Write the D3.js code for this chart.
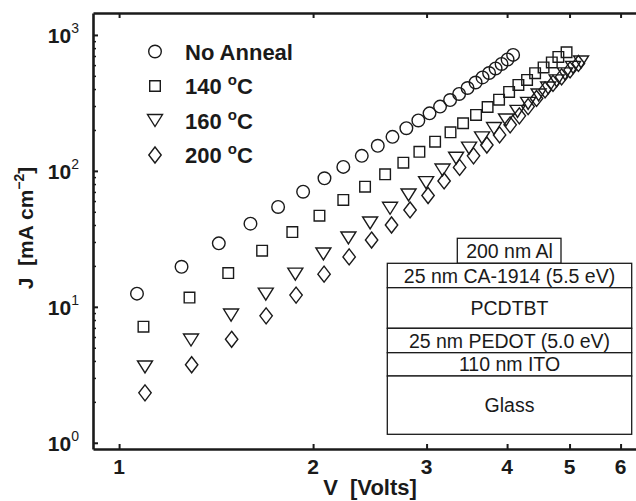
<!DOCTYPE html>
<html>
<head>
<meta charset="utf-8">
<script src="https://cdn.jsdelivr.net/npm/d3@7"></script>
<style>
  html, body { margin: 0; padding: 0; background: #fff; }
  svg { display: block; font-family: "Liberation Sans", Arial, Helvetica, sans-serif; }
</style>
</head>
<body>
<div id="container"></div>
<script>
// series data: voltage [V] and current density [mA cm^-2]
const seriesNames = ['No Anneal', '140', '160', '200'];

const vNoAnneal = [1.066, 1.250, 1.428, 1.599, 1.765, 1.930, 2.083, 2.228, 2.380, 2.520, 2.656, 2.791, 2.913,
  3.032, 3.148, 3.263, 3.370, 3.473, 3.574, 3.664, 3.751, 3.839, 3.922, 4.007, 4.087];
const jNoAnneal = [12.5, 19.7, 29.3, 40.9, 54.3, 70.3, 88.2, 107, 129, 153, 178, 206, 235,
  265, 297, 332, 368, 407, 447, 487, 525, 567, 612, 660, 713];

const v140 = [1.091, 1.286, 1.477, 1.667, 1.857, 2.046, 2.228, 2.408, 2.587, 2.761, 2.924, 3.093, 3.268,
  3.418, 3.580, 3.731, 3.887, 4.029, 4.165, 4.296, 4.421, 4.557, 4.693, 4.804, 4.947];
const j140 = [7.14, 11.7, 17.7, 25.9, 35.5, 46.8, 61.1, 76.5, 94.4, 115, 138, 164, 192,
  224, 258, 295, 334, 381, 429, 467, 523, 577, 628, 689, 746];

const v160 = [1.097, 1.293, 1.492, 1.689, 1.877, 2.075, 2.269, 2.452, 2.633, 2.813, 2.995, 3.176, 3.334,
  3.492, 3.658, 3.818, 3.985, 4.152, 4.312, 4.477, 4.632, 4.775, 4.920, 5.063, 5.210];
const j160 = [3.61, 5.70, 8.70, 12.4, 17.4, 24.5, 32.1, 41.4, 53.1, 66.5, 81.9, 101.5, 124,
  147, 175, 205, 237, 274, 314, 362, 407, 459, 517, 577, 633];

const v200 = [1.097, 1.296, 1.495, 1.691, 1.882, 2.080, 2.275, 2.465, 2.647, 2.828, 3.016, 3.194, 3.376,
  3.548, 3.721, 3.894, 4.044, 4.179, 4.312, 4.444, 4.581, 4.713, 4.860, 5.009, 5.161];
const j200 = [2.33, 3.75, 5.77, 8.58, 12.2, 17.4, 23.3, 31.0, 40.0, 51.6, 65.9, 84.3, 106,
  129, 155, 184, 218, 254, 297, 341, 394, 440, 491, 553, 617];

const xTicks = [1, 2, 3, 4, 5, 6];
const yTicks = [1, 10, 100, 1000];
const yMinorTicks = [2, 3, 4, 5, 6, 7, 8, 9, 20, 30, 40, 50, 60, 70, 80, 90,
  200, 300, 400, 500, 600, 700, 800, 900];

const deviceLayers = ['200 nm Al', '25 nm CA-1914 (5.5 eV)', 'PCDTBT', '25 nm PEDOT (5.0 eV)', '110 nm ITO', 'Glass'];

const width = 636;
const height = 501;
const plot = { left: 93, top: 13, right: 636, bottom: 449 };
const ink = '#1a1a1a';

const svg = d3
  .select('#container')
  .append('svg')
  .attr('width', width)
  .attr('height', height);

const xScale = d3.scaleLog().domain([0.911, 6.34]).range([plot.left, plot.right]);
const yScale = d3.scaleLog().domain([0.9, 1450]).range([plot.bottom, plot.top]);

// axes (ticks point inward, no right frame)
const axisStyle = g => {
  g.selectAll('.domain').attr('stroke', ink).attr('stroke-width', 2.6);
  g.selectAll('.tick line').attr('stroke', ink).attr('stroke-width', 2);
  g.selectAll('.tick text').remove();
};

svg.append('g')
  .attr('transform', 'translate(0,' + plot.bottom + ')')
  .call(d3.axisBottom(xScale).tickValues(xTicks).tickSizeInner(-5).tickSizeOuter(0))
  .call(axisStyle);

svg.append('g')
  .attr('transform', 'translate(0,' + plot.top + ')')
  .call(d3.axisTop(xScale).tickValues(xTicks).tickSizeInner(-5).tickSizeOuter(0))
  .call(axisStyle);

svg.append('g')
  .attr('transform', 'translate(' + plot.left + ',0)')
  .call(d3.axisLeft(yScale).tickValues(yTicks).tickSizeInner(-5).tickSizeOuter(0))
  .call(axisStyle);

svg.append('g')
  .attr('transform', 'translate(' + plot.left + ',0)')
  .call(d3.axisLeft(yScale).tickValues(yMinorTicks).tickSizeInner(-3).tickSizeOuter(0))
  .call(axisStyle)
  .call(g => g.select('.domain').remove())
  .call(g => g.selectAll('.tick line').attr('stroke-width', 1.5));

// tick labels
svg.append('g')
  .selectAll('text')
  .data(xTicks)
  .enter()
  .append('text')
  .attr('x', d => xScale(d))
  .attr('y', 474)
  .attr('text-anchor', 'middle')
  .attr('font-size', 21)
  .attr('font-weight', 'bold')
  .attr('fill', ink)
  .text(d => d);

const yLabels = svg.append('g')
  .selectAll('text')
  .data(yTicks)
  .enter()
  .append('text')
  .attr('x', 79)
  .attr('y', d => yScale(d) + 8)
  .attr('text-anchor', 'end')
  .attr('font-size', 21)
  .attr('font-weight', 'bold')
  .attr('fill', ink);
yLabels.append('tspan').text('10');
yLabels.append('tspan')
  .attr('dy', -10)
  .attr('font-size', 14)
  .attr('font-weight', 'normal')
  .text(d => Math.round(Math.log10(d)));

// axis titles
svg.append('text')
  .attr('x', 370)
  .attr('y', 495)
  .attr('text-anchor', 'middle')
  .attr('font-size', 22)
  .attr('font-weight', 'bold')
  .attr('fill', ink)
  .text('V\u00a0\u00a0[Volts]');

const yTitle = svg.append('text')
  .attr('transform', 'translate(33,228) rotate(-90)')
  .attr('text-anchor', 'middle')
  .attr('font-size', 21)
  .attr('font-weight', 'bold')
  .attr('fill', ink);
yTitle.append('tspan').text('J\u00a0\u00a0[mA cm');
yTitle.append('tspan').attr('dy', -9).attr('font-size', 14).text('\u22122');
yTitle.append('tspan').attr('dy', 9).text(']');

// marker shapes
const markerPaths = [
  'M6.3,0A6.3,6.3 0 1,1 -6.3,0A6.3,6.3 0 1,1 6.3,0Z',
  'M-5.3,-5.3H5.3V5.3H-5.3Z',
  'M-7.5,-6L7.5,-6L0,6Z',
  'M0,-8L6.2,0L0,8L-6.2,0Z',
];

const series = [
  vNoAnneal.map((v, i) => ({ v: v, j: jNoAnneal[i] })),
  v140.map((v, i) => ({ v: v, j: j140[i] })),
  v160.map((v, i) => ({ v: v, j: j160[i] })),
  v200.map((v, i) => ({ v: v, j: j200[i] })),
];

// device stack inset (drawn under the points)
const stack = { left: 387.3, right: 631.7, alLeft: 457.3, alRight: 561 };
const layerEdges = [238.3, 263.3, 287.7, 328.3, 352.7, 376, 434.3];
const inset = svg.append('g');
deviceLayers.forEach((name, i) => {
  const x0 = i === 0 ? stack.alLeft : stack.left;
  const x1 = i === 0 ? stack.alRight : stack.right;
  const y0 = layerEdges[i];
  const y1 = layerEdges[i + 1];
  inset.append('rect')
    .attr('x', x0)
    .attr('y', y0)
    .attr('width', x1 - x0)
    .attr('height', y1 - y0)
    .attr('fill', '#fff')
    .attr('stroke', ink)
    .attr('stroke-width', 1.3);
  inset.append('text')
    .attr('x', (stack.left + stack.right) / 2)
    .attr('y', (y0 + y1) / 2 + 7)
    .attr('text-anchor', 'middle')
    .attr('font-size', 19.5)
    .attr('fill', ink)
    .text(name);
});

const chart = svg.append('g');
series.forEach((pts, i) => {
  chart.append('g')
    .selectAll('path')
    .data(pts)
    .enter()
    .append('path')
    .attr('transform', d => 'translate(' + xScale(d.v) + ',' + yScale(d.j) + ')')
    .attr('d', markerPaths[i])
    .attr('fill', 'none')
    .attr('stroke', ink)
    .attr('stroke-width', 1.4);
});

// legend
const legend = svg.append('g');
seriesNames.forEach((name, i) => {
  const ly = 51.5 + i * 34.5;
  legend.append('path')
    .attr('transform', 'translate(155,' + ly + ')')
    .attr('d', markerPaths[i])
    .attr('fill', 'none')
    .attr('stroke', ink)
    .attr('stroke-width', 1.4);
  const t = legend.append('text')
    .attr('x', 185)
    .attr('y', ly + 8)
    .attr('font-size', 22)
    .attr('font-weight', 'bold')
    .attr('fill', ink);
  if (i === 0) {
    t.text(name);
  } else {
    t.append('tspan').text(name + ' ');
    t.append('tspan').attr('dy', -9).attr('font-size', 15).text('o');
    t.append('tspan').attr('dy', 9).text('C');
  }
});
</script>
</body>
</html>
